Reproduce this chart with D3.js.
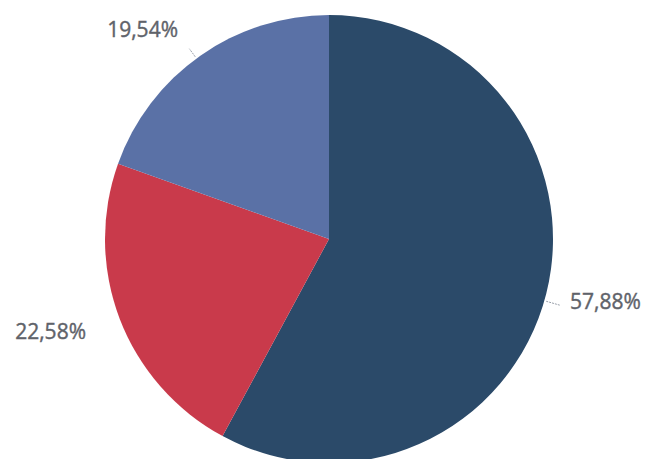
<!DOCTYPE html>
<html><head><meta charset="utf-8">
<script src="https://cdn.jsdelivr.net/npm/d3@7"></script>
<style>html,body{margin:0;padding:0;background:#fff;}svg{display:block;}</style>
</head><body>
<svg id="c" width="646" height="459"></svg>
<script>
const categories = ["A", "B", "C"];
const values = [57.88, 22.58, 19.54];
const labels = ["57,88%", "22,58%", "19,54%"];
const colors = ["#2b4a69", "#c93a4b", "#5a71a6"];

const svg = d3.select("#c");
const cx = 329, cy = 239, r = 224;
const g = svg.append("g").attr("transform", `translate(${cx},${cy})`);
const pie = d3.pie().sort(null).value(d => d)(values);
const arc = d3.arc().innerRadius(0).outerRadius(r);
g.selectAll("path").data(pie).join("path")
  .attr("d", arc).attr("fill", (d, i) => colors[i]);

const lines = [
  {a: 1.85, r1: 226, r2: 241},
  null,
  {a: 5.65, r1: 226, r2: 236}
];
pie.forEach((d, i) => {
  const L = lines[i];
  if (L) {
    g.append("line")
      .attr("x1", Math.sin(L.a) * L.r1).attr("y1", -Math.cos(L.a) * L.r1)
      .attr("x2", Math.sin(L.a) * L.r2).attr("y2", -Math.cos(L.a) * L.r2)
      .attr("stroke", "#9aa0aa").attr("stroke-width", 1).attr("stroke-dasharray", "2,1");
  }
});
const textPos = [[570, 301], [86, 331], [178, 29]];
svg.selectAll("text.l").data(labels).join("text").attr("class", "l")
  .attr("x", (d, i) => textPos[i][0])
  .attr("y", (d, i) => textPos[i][1])
  .attr("text-anchor", (d, i) => i === 0 ? "start" : "end")
  .attr("dominant-baseline", "central")
  .attr("font-family", "'Open Sans', 'Noto Sans', sans-serif")
  .attr("font-size", 21)
  .attr("fill", "#5f636a")
  .attr("stroke", "#5f636a")
  .attr("stroke-width", 0.4)
  .text(d => d);
</script>
</body></html>
